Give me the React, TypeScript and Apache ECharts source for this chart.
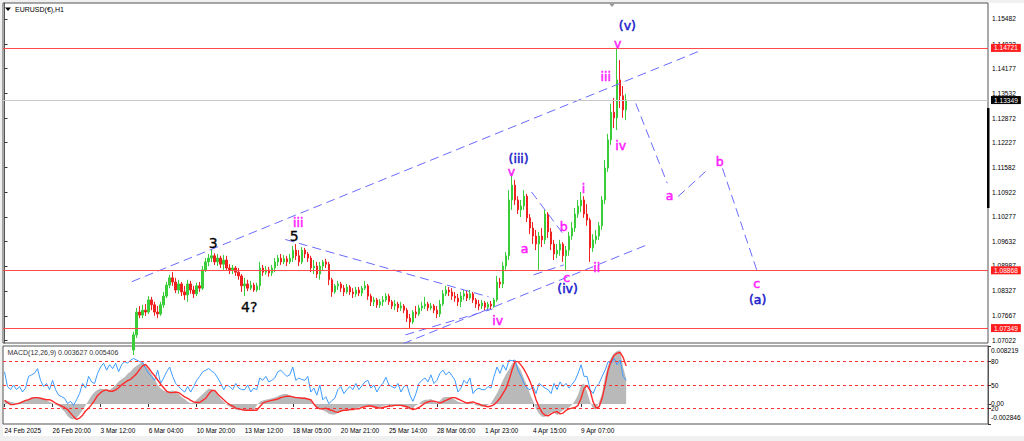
import React, { useEffect, useRef } from "react";
import * as echarts from "echarts";

// ---------- axis / tick data ----------
const totalSlots = 328; // 4-hour slots on the time axis (data + empty future area)
const labelStep = 16;
const tickLabels = [
  "24 Feb 2025", "26 Feb 20:00", "3 Mar 12:00", "6 Mar 04:00", "10 Mar 20:00",
  "13 Mar 12:00", "18 Mar 05:00", "20 Mar 21:00", "25 Mar 14:00", "28 Mar 06:00",
  "1 Apr 23:00", "4 Apr 15:00", "9 Apr 07:00",
];
const priceTicks = [
  1.15482, 1.14822, 1.14177, 1.13532, 1.12872, 1.12227, 1.11582, 1.10922,
  1.10277, 1.09632, 1.08987, 1.08327, 1.07667, 1.07022,
];
const priceMin = 1.06956;
const priceMax = 1.15903;
const redLevels = [1.14721, 1.08868, 1.07349];
const lastPrice = 1.13349;

const macdMin = -0.002846;
const macdMax = 0.008219;
const macdTicks = [0.008219, 0, -0.002846];
const oscLevels = [80, 50, 20];

// ---------- candles (4h), first visible slot ----------
const firstCandleIndex = 43;
const firstOpen = 1.0677;
const closes = [
  1.0717, 1.0777, 1.0769, 1.0782, 1.0777, 1.0809, 1.0796, 1.0777, 1.0772, 1.0796,
  1.0819, 1.0848, 1.0867, 1.0856, 1.0835, 1.0851, 1.0830, 1.0822, 1.0851, 1.0835,
  1.0825, 1.0846, 1.0840, 1.0888, 1.0909, 1.0919, 1.0925, 1.0909, 1.0919, 1.0903,
  1.0914, 1.0893, 1.0888, 1.0893, 1.0882, 1.0872, 1.0846, 1.0851, 1.0840, 1.0848,
  1.0835, 1.0846, 1.0893, 1.0882, 1.0888, 1.0880, 1.0893, 1.0909, 1.0919, 1.0909,
  1.0917, 1.0909, 1.0919, 1.0940, 1.0925, 1.0909, 1.0940, 1.0930, 1.0919, 1.0893,
  1.0898, 1.0877, 1.0898, 1.0909, 1.0903, 1.0862, 1.0830, 1.0846, 1.0851, 1.0840,
  1.0830, 1.0843, 1.0830, 1.0825, 1.0835, 1.0827, 1.0840, 1.0846, 1.0819, 1.0804,
  1.0809, 1.0796, 1.0804, 1.0809, 1.0819, 1.0804, 1.0793, 1.0798, 1.0788, 1.0793,
  1.0782, 1.0761, 1.0751, 1.0777, 1.0772, 1.0788, 1.0793, 1.0798, 1.0788, 1.0793,
  1.0782, 1.0772, 1.0798, 1.0825, 1.0835, 1.0830, 1.0819, 1.0814, 1.0804, 1.0819,
  1.0825, 1.0814, 1.0825, 1.0809, 1.0798, 1.0793, 1.0801, 1.0790, 1.0798, 1.0793,
  1.0809, 1.0856, 1.0851, 1.0898, 1.0925, 1.1072, 1.1111, 1.1072, 1.1046, 1.1056,
  1.1082, 1.1025, 1.0998, 1.0977, 1.0956, 1.0977, 1.0967, 1.1035, 1.0988, 1.0956,
  1.0930, 1.0940, 1.0956, 1.0925, 1.0940, 1.0977, 1.0998, 1.1035, 1.1056, 1.1072,
  1.1035, 1.1019, 1.0946, 1.0967, 1.0977, 1.1004, 1.1072, 1.1156, 1.1230, 1.1303,
  1.1288, 1.1388, 1.1346, 1.1309, 1.1335,
];
const highs = [
  1.0725, 1.0788, 1.0793, 1.0796, 1.0798, 1.0819, 1.0817, 1.0804, 1.0793, 1.0804,
  1.0830, 1.0856, 1.0875, 1.0882, 1.0867, 1.0862, 1.0856, 1.0846, 1.0862, 1.0859,
  1.0846, 1.0854, 1.0856, 1.0898, 1.0919, 1.0930, 1.0943, 1.0932, 1.0930, 1.0925,
  1.0927, 1.0925, 1.0903, 1.0901, 1.0898, 1.0893, 1.0877, 1.0867, 1.0862, 1.0859,
  1.0854, 1.0854, 1.0909, 1.0901, 1.0898, 1.0896, 1.0901, 1.0919, 1.0927, 1.0930,
  1.0927, 1.0925, 1.0930, 1.0951, 1.0956, 1.0940, 1.0948, 1.0946, 1.0935, 1.0925,
  1.0914, 1.0909, 1.0909, 1.0914, 1.0917, 1.0909, 1.0867, 1.0851, 1.0859, 1.0856,
  1.0848, 1.0851, 1.0848, 1.0840, 1.0843, 1.0843, 1.0846, 1.0859, 1.0851, 1.0825,
  1.0817, 1.0814, 1.0811, 1.0819, 1.0827, 1.0825, 1.0809, 1.0809, 1.0804, 1.0804,
  1.0798, 1.0788, 1.0772, 1.0782, 1.0793, 1.0796, 1.0804, 1.0817, 1.0804, 1.0801,
  1.0798, 1.0793, 1.0809, 1.0835, 1.0846, 1.0843, 1.0840, 1.0830, 1.0825, 1.0830,
  1.0835, 1.0835, 1.0835, 1.0830, 1.0814, 1.0809, 1.0809, 1.0806, 1.0804, 1.0806,
  1.0814, 1.0872, 1.0867, 1.0909, 1.0935, 1.1098, 1.1143, 1.1125, 1.1082, 1.1072,
  1.1098, 1.1088, 1.1035, 1.1014, 1.0993, 1.0988, 1.0998, 1.1046, 1.1040, 1.0998,
  1.0967, 1.0956, 1.0967, 1.0961, 1.0951, 1.0988, 1.1014, 1.1051, 1.1072, 1.1093,
  1.1082, 1.1061, 1.1025, 1.0982, 1.0993, 1.1014, 1.1082, 1.1177, 1.1246, 1.1325,
  1.1340, 1.1472, 1.1440, 1.1372, 1.1351,
];
const lows = [
  1.0664, 1.0709, 1.0761, 1.0761, 1.0767, 1.0772, 1.0782, 1.0767, 1.0761, 1.0767,
  1.0788, 1.0814, 1.0840, 1.0846, 1.0827, 1.0825, 1.0819, 1.0809, 1.0804, 1.0825,
  1.0814, 1.0819, 1.0830, 1.0835, 1.0882, 1.0898, 1.0909, 1.0901, 1.0898, 1.0893,
  1.0888, 1.0888, 1.0877, 1.0877, 1.0872, 1.0862, 1.0830, 1.0819, 1.0832, 1.0835,
  1.0830, 1.0830, 1.0835, 1.0872, 1.0875, 1.0870, 1.0872, 1.0882, 1.0898, 1.0901,
  1.0903, 1.0898, 1.0903, 1.0909, 1.0914, 1.0898, 1.0903, 1.0919, 1.0909, 1.0882,
  1.0877, 1.0867, 1.0862, 1.0888, 1.0893, 1.0848, 1.0817, 1.0825, 1.0835, 1.0830,
  1.0819, 1.0825, 1.0822, 1.0814, 1.0817, 1.0819, 1.0819, 1.0835, 1.0809, 1.0793,
  1.0793, 1.0788, 1.0788, 1.0793, 1.0804, 1.0796, 1.0785, 1.0782, 1.0777, 1.0780,
  1.0774, 1.0751, 1.0735, 1.0746, 1.0761, 1.0767, 1.0780, 1.0785, 1.0780, 1.0782,
  1.0774, 1.0761, 1.0764, 1.0793, 1.0819, 1.0819, 1.0809, 1.0804, 1.0793, 1.0790,
  1.0809, 1.0806, 1.0809, 1.0801, 1.0788, 1.0782, 1.0785, 1.0782, 1.0782, 1.0785,
  1.0788, 1.0804, 1.0840, 1.0840, 1.0888, 1.0914, 1.1046, 1.1059, 1.1035, 1.1027,
  1.1046, 1.1014, 1.0982, 1.0956, 1.0940, 1.0888, 1.0948, 1.0956, 1.0972, 1.0940,
  1.0914, 1.0919, 1.0925, 1.0909, 1.0888, 1.0925, 1.0967, 1.0988, 1.1025, 1.1040,
  1.1025, 1.1004, 1.0909, 1.0935, 1.0956, 1.0967, 1.0993, 1.1061, 1.1146, 1.1217,
  1.1261, 1.1256, 1.1314, 1.1288, 1.1282,
];

// ---------- MACD panel (one value per 4h slot, from slot 0) ----------
const macdMain = [
  0.0006, 0.0004, 0.0003, 0.0002, 0.0001, 0.0002, 0.0004, 0.0005, 0.0007, 0.0009,
  0.0009, 0.0010, 0.0008, 0.0007, 0.0005, 0.0003, 0.0001, -0.0001, -0.0003, -0.0007,
  -0.0011, -0.0017, -0.0021, -0.0022, -0.0020, -0.0015, -0.0009, -0.0002, 0.0005, 0.0012,
  0.0017, 0.0020, 0.0022, 0.0021, 0.0020, 0.0020, 0.0023, 0.0027, 0.0032, 0.0035,
  0.0038, 0.0043, 0.0046, 0.0051, 0.0054, 0.0057, 0.0059, 0.0055, 0.0049, 0.0042,
  0.0035, 0.0027, 0.0022, 0.0019, 0.0017, 0.0018, 0.0019, 0.0017, 0.0014, 0.0010,
  0.0007, 0.0003, 0.0001, 0.0002, 0.0006, 0.0010, 0.0014, 0.0018, 0.0022, 0.0021,
  0.0018, 0.0013, 0.0007, 0.0003, -0.0001, -0.0004, -0.0006, -0.0008, -0.0009, -0.0009,
  -0.0009, -0.0009, -0.0009, -0.0009, -0.0002, 0.0003, 0.0005, 0.0006, 0.0007, 0.0008,
  0.0009, 0.0011, 0.0013, 0.0014, 0.0014, 0.0012, 0.0011, 0.0010, 0.0009, 0.0009,
  0.0009, 0.0008, 0.0006, 0.0001, -0.0006, -0.0007, -0.0009, -0.0011, -0.0014, -0.0015,
  -0.0015, -0.0013, -0.0011, -0.0009, -0.0009, -0.0009, -0.0008, -0.0007, -0.0005, -0.0004,
  -0.0004, -0.0004, -0.0004, -0.0005, -0.0006, -0.0005, -0.0003, -0.0002, -0.0001, -0.0002,
  -0.0002, -0.0003, -0.0003, -0.0004, -0.0006, -0.0008, -0.0006, -0.0002, 0.0000, 0.0004,
  0.0006, 0.0006, 0.0007, 0.0004, 0.0001, 0.0005, 0.0009, 0.0010, 0.0010, 0.0009,
  0.0006, 0.0003, 0.0002, 0.0001, 0.0002, 0.0003, 0.0001, -0.0002, -0.0003, -0.0004,
  -0.0003, -0.0001, 0.0001, 0.0008, 0.0015, 0.0024, 0.0034, 0.0042, 0.0049, 0.0057,
  0.0061, 0.0054, 0.0047, 0.0036, 0.0026, 0.0014, 0.0004, -0.0007, -0.0014, -0.0018,
  -0.0018, -0.0015, -0.0012, -0.0012, -0.0016, -0.0012, -0.0009, -0.0007, -0.0005, -0.0001,
  0.0005, 0.0013, 0.0027, 0.0029, 0.0017, 0.0003, -0.0007, -0.0008, 0.0003, 0.0015,
  0.0039, 0.0055, 0.0066, 0.0072, 0.0075, 0.0076, 0.0052, 0.0036,
];
const macdSignal = [
  0.0005, 0.0002, -0.0001, -0.0001, 0.0000, 0.0001, 0.0003, 0.0005, 0.0006, 0.0008,
  0.0009, 0.0009, 0.0008, 0.0007, 0.0006, 0.0006, 0.0004, 0.0001, -0.0001, -0.0003,
  -0.0005, -0.0008, -0.0013, -0.0018, -0.0022, -0.0020, -0.0016, -0.0010, -0.0006, -0.0001,
  0.0005, 0.0012, 0.0016, 0.0019, 0.0020, 0.0018, 0.0018, 0.0020, 0.0023, 0.0027,
  0.0030, 0.0033, 0.0035, 0.0039, 0.0043, 0.0049, 0.0054, 0.0056, 0.0051, 0.0045,
  0.0040, 0.0034, 0.0028, 0.0023, 0.0018, 0.0016, 0.0016, 0.0017, 0.0016, 0.0013,
  0.0010, 0.0008, 0.0005, 0.0003, 0.0002, 0.0002, 0.0005, 0.0008, 0.0014, 0.0019,
  0.0019, 0.0014, 0.0010, 0.0006, 0.0002, -0.0001, -0.0003, -0.0006, -0.0007, -0.0008,
  -0.0009, -0.0009, -0.0009, -0.0009, -0.0009, -0.0004, 0.0001, 0.0003, 0.0004, 0.0005,
  0.0006, 0.0007, 0.0009, 0.0010, 0.0011, 0.0011, 0.0010, 0.0009, 0.0009, 0.0008,
  0.0008, 0.0007, 0.0006, 0.0000, -0.0005, -0.0007, -0.0007, -0.0006, -0.0008, -0.0009,
  -0.0011, -0.0012, -0.0010, -0.0009, -0.0009, -0.0008, -0.0008, -0.0007, -0.0007, -0.0005,
  -0.0004, -0.0003, -0.0003, -0.0004, -0.0005, -0.0006, -0.0005, -0.0004, -0.0003, -0.0003,
  -0.0002, -0.0002, -0.0002, -0.0003, -0.0004, -0.0006, -0.0008, -0.0007, -0.0005, -0.0002,
  0.0001, 0.0003, 0.0004, 0.0004, 0.0003, 0.0001, 0.0003, 0.0005, 0.0007, 0.0009,
  0.0009, 0.0007, 0.0005, 0.0003, 0.0001, 0.0002, 0.0003, 0.0001, 0.0000, -0.0002,
  -0.0003, -0.0004, -0.0003, -0.0001, 0.0003, 0.0008, 0.0015, 0.0022, 0.0034, 0.0048,
  0.0060, 0.0060, 0.0055, 0.0049, 0.0041, 0.0032, 0.0020, 0.0006, -0.0004, -0.0012,
  -0.0016, -0.0017, -0.0014, -0.0012, -0.0011, -0.0014, -0.0013, -0.0009, -0.0007, -0.0006,
  -0.0005, -0.0002, 0.0008, 0.0022, 0.0026, 0.0019, 0.0003, -0.0006, -0.0004, 0.0008,
  0.0027, 0.0048, 0.0061, 0.0069, 0.0072, 0.0073, 0.0066, 0.0054,
];
const oscLine = [
  67, 48, 44, 50, 44, 48, 41, 46, 61, 63,
  65, 71, 56, 48, 52, 44, 56, 44, 37, 35,
  33, 26, 29, 24, 31, 39, 52, 46, 61, 54,
  52, 65, 73, 78, 69, 76, 71, 78, 67, 76,
  80, 78, 82, 84, 82, 80, 79, 71, 65, 61,
  56, 69, 52, 59, 67, 73, 61, 52, 48, 44,
  41, 48, 41, 48, 56, 61, 67, 69, 71, 68,
  65, 59, 52, 44, 50, 48, 44, 52, 46, 44,
  44, 50, 41, 46, 44, 59, 56, 61, 54, 56,
  59, 67, 69, 65, 61, 63, 73, 56, 59, 57,
  56, 61, 41, 46, 37, 50, 31, 35, 26, 30,
  33, 44, 48, 39, 44, 48, 44, 52, 44, 49,
  54, 56, 46, 50, 41, 48, 52, 60, 50, 48,
  46, 52, 41, 48, 50, 37, 29, 39, 52, 56,
  59, 54, 63, 52, 56, 65, 69, 63, 67, 62,
  56, 41, 46, 56, 52, 59, 39, 44, 46, 44,
  44, 48, 46, 61, 73, 65, 76, 69, 82, 81,
  82, 69, 61, 52, 46, 44, 48, 39, 52, 49,
  46, 44, 39, 52, 44, 54, 48, 52, 46, 51,
  56, 65, 76, 61, 61, 44, 39, 48, 52, 61,
  69, 80, 78, 84, 76, 82, 61, 56,
];

// ---------- annotations: [slot, price] ----------
const trendLines = [
  [[42.4, 1.0857], [232.4, 1.1467]],
  [[93.5, 1.0968], [161.2, 1.0817]],
  [[132.8, 1.0694], [214.6, 1.0956]],
  [[133.5, 1.0717], [162.5, 1.0785]],
  [[175.5, 1.1093], [185.8, 1.0985]],
  [[176.2, 1.0875], [186.2, 1.0901]],
  [[210.2, 1.1326], [220.7, 1.1116]],
  [[224.3, 1.1081], [234.3, 1.1153]],
  [[239.1, 1.1155], [250.7, 1.0883]],
];
const magentaLabels: [string, number, number][] = [
  ["v", 204.2, 1.1485], ["iii", 200.2, 1.1398], ["iv", 205.2, 1.1214],
  ["v", 168.8, 1.1148], ["a", 173.2, 1.0943], ["b", 186.2, 1.1001],
  ["i", 192.8, 1.1103], ["c", 187.2, 1.0869], ["ii", 197.2, 1.0893],
  ["iii", 97.8, 1.1014], ["iv", 164.2, 1.0756],
  ["a", 221.5, 1.1085], ["b", 238.2, 1.1172], ["c", 250.5, 1.0851],
];
const blueLabels: [string, number, number][] = [
  ["(v)", 207.4, 1.1532], ["(iii)", 171.2, 1.1182], ["(iv)", 187.5, 1.0840], ["(a)", 250.8, 1.0811],
];
const blackLabels: [string, number, number][] = [
  ["3", 69.5, 1.0959], ["5", 96.5, 1.0977], ["4?", 81.5, 1.0790],
];

const FONT = "Liberation Sans, Arial, sans-serif";
const WAVE_FONT = "DejaVu Sans, Verdana, sans-serif";

function buildOption() {
  const categories = Array.from({ length: totalSlots }, (_, i) => String(i));
  const candleData = categories.map((_, i) => {
    const k = i - firstCandleIndex;
    if (k < 0 || k >= closes.length) return "-";
    const open = k === 0 ? firstOpen : closes[k - 1];
    return [open, closes[k], lows[k], highs[k]];
  });
  const showTick = (index: number) => index % labelStep === 0 && index / labelStep < tickLabels.length;

  const labelSeries = (list: [string, number, number][], color: string, size: number, stroke: number) => ({
    type: "scatter",
    xAxisIndex: 1,
    yAxisIndex: 0,
    symbolSize: 0,
    silent: true,
    clip: false,
    itemStyle: { color: "#ffffff" },
    label: {
      show: true, position: "inside", formatter: "{b}", color, fontSize: size,
      fontFamily: WAVE_FONT, textBorderColor: color, textBorderWidth: stroke, opacity: 1,
    },
    data: list.map(([t, x, y]) => ({ name: t, value: [x, y] })),
    z: 5,
  });

  const redLabel = {
    show: true, position: "end", distance: 3,
    formatter: (p: any) => Number(p.value).toFixed(5),
    color: "#fff", backgroundColor: "#ff1e1e", padding: [1, 3, 0, 3],
    fontSize: 6.6, fontFamily: FONT,
  };

  return {
    animation: false,
    backgroundColor: "#f0f0f0",
    textStyle: { fontFamily: FONT },
    graphic: [
      { type: "rect", z: -10, shape: { x: 3, y: 3, width: 1021, height: 433 }, style: { fill: "#ffffff" } },
      { type: "polygon", shape: { points: [[5, 7.5], [11, 7.5], [8, 11]] }, style: { fill: "#000" }, z: 10 },
      { type: "text", x: 15, y: 5.5, style: { text: "EURUSD(€),H1", fontSize: 7, fill: "#000", fontFamily: FONT }, z: 10 },
      { type: "text", x: 7.5, y: 349, style: { text: "MACD(12,26,9) 0.003627 0.005406", fontSize: 7, fill: "#333", fontFamily: FONT }, z: 10 },
      { type: "rect", shape: { x: 987, y: 108, width: 2.5, height: 100 }, style: { fill: "#000" }, z: 10 },
      { type: "polygon", shape: { points: [[609, 3.5], [615, 3.5], [612, 7]] }, style: { fill: "#999" }, z: 10 },
    ],
    grid: [
      { left: 3, top: 3, width: 985, height: 340, show: true, borderColor: "#555", borderWidth: 1, backgroundColor: "#fff" },
      { left: 3, top: 346, width: 985, height: 78, show: true, borderColor: "#555", borderWidth: 1, backgroundColor: "#fff" },
    ],
    xAxis: [
      {
        type: "category", gridIndex: 0, data: categories,
        axisLine: { show: false }, axisTick: { show: false }, axisLabel: { show: false }, splitLine: { show: false },
      },
      { type: "value", gridIndex: 0, min: -0.5, max: totalSlots - 0.5, show: false },
      {
        type: "category", gridIndex: 1, data: categories,
        axisLine: { show: false },
        axisTick: { show: true, interval: showTick, alignWithLabel: true, length: 3, lineStyle: { color: "#333" } },
        axisLabel: {
          interval: showTick, align: "left", margin: 3, fontSize: 6.5, color: "#000",
          formatter: (_v: string, index: number) => tickLabels[index / labelStep] ?? "",
        },
        splitLine: { show: false },
      },
    ],
    yAxis: [
      {
        type: "value", gridIndex: 0, position: "right", min: priceMin, max: priceMax,
        splitLine: { show: false },
        axisLine: { show: true, lineStyle: { color: "#555" } },
        axisTick: { show: true, length: 3, customValues: priceTicks, lineStyle: { color: "#333" } },
        axisLabel: { customValues: priceTicks, formatter: (v: number) => v.toFixed(5), fontSize: 6.6, color: "#000", margin: 4 },
      },
      {
        type: "value", gridIndex: 1, position: "right", min: macdMin, max: macdMax,
        splitLine: { show: false },
        axisLine: { show: true, lineStyle: { color: "#555" } },
        axisTick: { show: true, length: 3, customValues: macdTicks, lineStyle: { color: "#333" } },
        axisLabel: {
          customValues: macdTicks, margin: 3, fontSize: 6.6, color: "#000",
          formatter: (v: number) => (v === 0 ? "0.00" : v > 0 ? "{t|" + v.toFixed(6) + "}" : "{b|" + v.toFixed(6) + "}"),
          rich: {
            t: { fontSize: 6.6, color: "#000", padding: [9, 0, 0, 0] },
            b: { fontSize: 6.6, color: "#000", padding: [0, 0, 14, 0] },
          },
        },
      },
      {
        type: "value", gridIndex: 1, position: "right", min: 0, max: 100,
        splitLine: { show: false }, axisLine: { show: false },
        axisTick: { show: true, length: 3, customValues: oscLevels, lineStyle: { color: "#333" } },
        axisLabel: { customValues: oscLevels, margin: 3, fontSize: 6.6, color: "#000", formatter: (v: number) => String(v) },
      },
    ],
    series: [
      {
        type: "candlestick", xAxisIndex: 0, yAxisIndex: 0, data: candleData, barWidth: 2,
        itemStyle: { color: "#3acd3a", color0: "#ee2020", borderColor: "#3acd3a", borderColor0: "#ee2020", borderWidth: 1 },
        markLine: {
          silent: true, symbol: ["none", "none"], animation: false, precision: 5,
          data: [
            ...redLevels.map((v) => ({ yAxis: v, lineStyle: { color: "#ff4a4a", width: 1.2, type: "solid" }, label: redLabel })),
            {
              yAxis: lastPrice, lineStyle: { color: "#c8c8c8", width: 1, type: "solid" },
              label: { ...redLabel, backgroundColor: "#000" },
            },
          ],
        },
        z: 3,
      },
      ...trendLines.map((seg) => ({
        type: "line", xAxisIndex: 1, yAxisIndex: 0, data: seg, symbol: "none", silent: true,
        lineStyle: { color: "#6a6aff", width: 1, type: [9, 5] }, z: 4,
      })),
      labelSeries(magentaLabels, "#ff1cff", 12.5, 0.5),
      labelSeries(blueLabels, "#2020cc", 12.5, 0.5),
      labelSeries(blackLabels, "#000000", 14, 0.3),
      {
        type: "line", xAxisIndex: 2, yAxisIndex: 1, data: macdMain, symbol: "none", silent: true,
        lineStyle: { width: 0, color: "#b9b9b9" }, areaStyle: { color: "#b9b9b9", opacity: 1 }, z: 2,
      },
      {
        type: "line", xAxisIndex: 2, yAxisIndex: 1, data: macdSignal, symbol: "none", silent: true,
        lineStyle: { color: "#ff2a2a", width: 1.4 }, z: 4,
      },
      {
        type: "line", xAxisIndex: 2, yAxisIndex: 2, data: oscLine, symbol: "none", silent: true,
        lineStyle: { color: "#3d9bff", width: 1 }, z: 3,
        markLine: {
          silent: true, symbol: ["none", "none"], animation: false, label: { show: false },
          lineStyle: { color: "#ff3030", width: 1, type: [3, 3] },
          data: oscLevels.map((v) => ({ yAxis: v })),
        },
      },
    ],
  };
}

export default function App() {
  const ref = useRef<HTMLDivElement>(null);
  useEffect(() => {
    document.body.style.margin = "0";
    if (!ref.current) return;
    const chart = echarts.init(ref.current, undefined, { renderer: "svg" });
    chart.setOption(buildOption() as any);
    return () => chart.dispose();
  }, []);
  return <div ref={ref} style={{ width: 1024, height: 441 }} />;
}
